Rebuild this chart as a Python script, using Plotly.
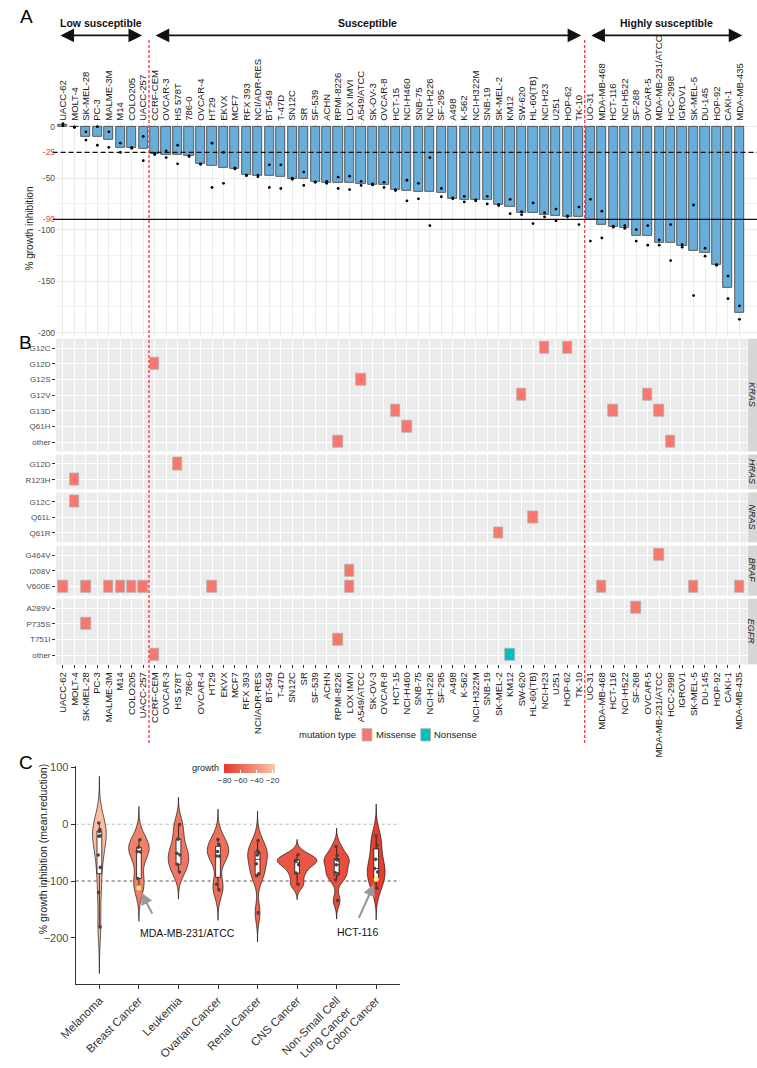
import numpy as np
import plotly.graph_objects as go

W, H = 757, 1068
FONT = "Liberation Sans, Arial, sans-serif"


def px(x):
    return x / W


def py(y):
    return 1 - y / H


# ---------------- data ----------------
cell_lines = ["UACC-62", "MOLT-4", "SK-MEL-28", "PC-3", "MALME-3M", "M14", "COLO205", "UACC-257",
              "CCRF-CEM", "OVCAR-3", "HS 578T", "786-0", "OVCAR-4", "HT29", "EKVX", "MCF7", "RFX 393",
              "NCI/ADR-RES", "BT-549", "T-47D", "SN12C", "SR", "SF-539", "ACHN", "RPMI-8226", "LOX IMVI",
              "A549/ATCC", "SK-OV-3", "OVCAR-8", "HCT-15", "NCI-H460", "SNB-75", "NCI-H226", "SF-295",
              "A498", "K-562", "NCI-H322M", "SNB-19", "SK-MEL-2", "KM12", "SW-620", "HL-60(TB)", "NCI-H23",
              "U251", "HOP-62", "TK-10", "UO-31", "MDA-MB-468", "HCT-116", "NCI-H522", "SF-268", "OVCAR-5",
              "MDA-MB-231/ATCC", "HCC-2998", "IGROV1", "SK-MEL-5", "DU-145", "HOP-92", "CAKI-1", "MDA-MB-435"]

growth = [2.0, -0.5, -9.5, -9.5, -12.7, -20.3, -20.3, -21.3,
          -26.3, -27.0, -27.3, -28.6, -36.0, -37.5, -39.4, -40.6, -47.0,
          -48.0, -48.0, -49.0, -50.5, -51.0, -53.7, -54.3, -54.3, -54.3,
          -55.0, -56.0, -56.5, -61.6, -62.2, -63.0, -63.0, -64.0,
          -69.5, -70.5, -71.4, -71.4, -76.0, -77.8, -84.0, -84.0, -85.4,
          -86.0, -87.3, -87.3, -90.6, -95.5, -97.0, -97.8, -105.7, -105.7,
          -112.4, -112.7, -115.6, -120.0, -122.5, -134.3, -156.0, -180.6]

rep1 = [3, -0.5, -5, 0, -5, -16, -20, -9.5,
        -26, -23.5, -18, -28, -36, -16, -25, -40, -47,
        -47, -37, -37, -50, -44, -53.5, -53, -49, -48,
        -53, -55.5, -54, -61, -52, -55, -30, -60,
        -69, -67.6, -71, -67.6, -75.5, -70.5, -82.5, -74, -83.5,
        -80, -86.5, -78, -70.5, -82, -96.5, -96, -100, -96,
        -110, -95, -114.5, -76, -118, -134, -145, -174]

rep2 = [1, -0.5, -13, -18, -20, -25, -21, -33,
        -27, -30, -36, -29, -36.5, -59, -55, -41, -47.5,
        -48.5, -59, -60, -51, -57, -54, -55, -60, -61,
        -57, -56.5, -59, -62, -72, -70, -96, -68,
        -70, -73, -72, -75, -76.5, -84.4, -85.4, -94, -87.6,
        -91.4, -87.5, -95, -111, -108, -97.5, -98.7, -111, -115,
        -115, -130, -117, -164, -125.7, -134.5, -167, -187]

tissue = ["Melanoma", "Leukemia", "Melanoma", "Prostate", "Melanoma", "Melanoma", "Colon Cancer", "Melanoma",
          "Leukemia", "Ovarian Cancer", "Breast Cancer", "Renal Cancer", "Ovarian Cancer", "Colon Cancer",
          "Non-Small Cell Lung Cancer", "Breast Cancer", "Renal Cancer",
          "Ovarian Cancer", "Breast Cancer", "Breast Cancer", "Renal Cancer", "Leukemia", "CNS Cancer",
          "Renal Cancer", "Leukemia", "Melanoma",
          "Non-Small Cell Lung Cancer", "Ovarian Cancer", "Ovarian Cancer", "Colon Cancer",
          "Non-Small Cell Lung Cancer", "CNS Cancer", "Non-Small Cell Lung Cancer", "CNS Cancer",
          "Renal Cancer", "Leukemia", "Non-Small Cell Lung Cancer", "CNS Cancer", "Melanoma", "Colon Cancer",
          "Colon Cancer", "Leukemia", "Non-Small Cell Lung Cancer",
          "CNS Cancer", "Non-Small Cell Lung Cancer", "Renal Cancer", "Renal Cancer", "Breast Cancer",
          "Colon Cancer", "Non-Small Cell Lung Cancer", "CNS Cancer", "Ovarian Cancer",
          "Breast Cancer", "Colon Cancer", "Ovarian Cancer", "Melanoma", "Prostate",
          "Non-Small Cell Lung Cancer", "Renal Cancer", "Melanoma"]

y_ticks_a = [0, -25, -50, -90, -100, -150, -200]
thresholds = [-25, -90]

genes = ["KRAS", "HRAS", "NRAS", "BRAF", "EGFR"]
gene_variants = {
    "KRAS": ["G12C", "G12D", "G12S", "G12V", "G13D", "Q61H", "other"],
    "HRAS": ["G12D", "R123H"],
    "NRAS": ["G12C", "Q61L", "Q61R"],
    "BRAF": ["G464V", "I208V", "V600E"],
    "EGFR": ["A289V", "P735S", "T751I", "other"],
}
mut_gene = ["KRAS", "KRAS", "KRAS", "KRAS", "KRAS", "KRAS", "KRAS", "KRAS", "KRAS", "KRAS", "KRAS", "KRAS",
            "HRAS", "HRAS",
            "NRAS", "NRAS", "NRAS",
            "BRAF", "BRAF", "BRAF", "BRAF", "BRAF", "BRAF", "BRAF", "BRAF", "BRAF", "BRAF", "BRAF", "BRAF", "BRAF",
            "EGFR", "EGFR", "EGFR", "EGFR", "EGFR"]
mut_variant = ["G12C", "G12C", "G12D", "G12S", "G12V", "G12V", "G13D", "G13D", "G13D", "Q61H", "other", "other",
               "G12D", "R123H",
               "G12C", "Q61L", "Q61R",
               "G464V", "I208V", "V600E", "V600E", "V600E", "V600E", "V600E", "V600E", "V600E", "V600E", "V600E",
               "V600E", "V600E",
               "A289V", "P735S", "T751I", "other", "other"]
mut_cell = ["NCI-H23", "HOP-62", "CCRF-CEM", "A549/ATCC", "SW-620", "OVCAR-5", "HCT-15", "HCT-116",
            "MDA-MB-231/ATCC", "NCI-H460", "RPMI-8226", "HCC-2998",
            "HS 578T", "MOLT-4",
            "MOLT-4", "HL-60(TB)", "SK-MEL-2",
            "MDA-MB-231/ATCC", "LOX IMVI", "UACC-62", "SK-MEL-28", "MALME-3M", "M14", "COLO205", "UACC-257",
            "HT29", "LOX IMVI", "MDA-MB-468", "SK-MEL-5", "MDA-MB-435",
            "SF-268", "SK-MEL-28", "RPMI-8226", "CCRF-CEM", "KM12"]
mut_type = ["Missense"] * 34 + ["Nonsense"]
type_colors = {"Missense": "#F8766D", "Nonsense": "#00BFC4"}

groups_order = ["Melanoma", "Breast Cancer", "Leukemia", "Ovarian Cancer", "Renal Cancer",
                "CNS Cancer", "Non-Small Cell Lung Cancer", "Colon Cancer"]
group_labels = ["Melanoma", "Breast Cancer", "Leukemia", "Ovarian Cancer", "Renal Cancer",
                "CNS Cancer", "Non-Small Cell<br>Lung Cancer", "Colon Cancer"]
highlight_cells = ["MDA-MB-231/ATCC", "HCT-116"]
ref_lines_c = [0, -100]
cbar_ticks = [-80, -60, -40, -20]
cbar_limits = [-81, -17]
C_LOW, C_HIGH = (229, 56, 42), (252, 199, 168)

BAR_COLOR = "#69AEDA"
RED = "#F4434A"

fig = go.Figure()
xi = np.arange(len(cell_lines))
cell_index = {c: i for i, c in enumerate(cell_lines)}

# ---------------- Panel A ----------------
fig.add_trace(go.Bar(x=xi, y=growth, width=0.8,
                     marker=dict(color=BAR_COLOR, line=dict(color="#3a3a3a", width=0.8)),
                     xaxis="x", yaxis="y", hoverinfo="skip"))
fig.add_trace(go.Scatter(x=np.concatenate([xi, xi]), y=rep1 + rep2, mode="markers",
                         marker=dict(size=2.8, color="black"), xaxis="x", yaxis="y", hoverinfo="skip"))

ticktext_a = []
for v in y_ticks_a:
    if v in thresholds:
        ticktext_a.append(f'<span style="color:{RED}">{v}</span>')
    else:
        ticktext_a.append(str(v))

layout = dict(
    width=W, height=H, margin=dict(l=0, r=0, t=0, b=0), autosize=False,
    paper_bgcolor="white", plot_bgcolor="white", showlegend=False,
    font=dict(family=FONT, color="#222"),
    bargap=0,
)
layout["xaxis"] = dict(domain=[px(40), 1.0], range=[-0.6, 60.53], anchor="y", side="top",
                       tickvals=xi, ticktext=cell_lines, tickangle=-90, ticks="",
                       tickfont=dict(size=9.5, color="#1a1a1a"), showgrid=True, gridcolor="#EBEBEB",
                       zeroline=False, showline=False)
layout["yaxis"] = dict(domain=[py(337), py(119)], range=[-202.9, 4.8], anchor="x",
                       tickvals=y_ticks_a, ticktext=ticktext_a, ticks="",
                       tickfont=dict(size=8.5, color="#4D4D4D"), showgrid=True, gridcolor="#EBEBEB",
                       minor=dict(tickvals=[-75, -125, -175], showgrid=True, gridcolor="#F2F2F2"),
                       zeroline=False, showline=False)

shapes = []
annotations = []
for t in thresholds:
    shapes.append(dict(type="line", xref="x domain", x0=-0.005, x1=1, yref="y", y0=t, y1=t,
                       line=dict(color="#111", width=1.3, dash="5px,3px" if t == -25 else "solid")))

# group boundaries
cuts = [7.5, 45.5]
for c in cuts:
    shapes.append(dict(type="line", xref="x", x0=c, x1=c, yref="paper", y0=py(752), y1=py(35),
                       line=dict(color=RED, width=1.4, dash="3px,2px"), layer="above"))

arrow_spans = [(-0.35, 6.9, "Low susceptible"), (7.95, 45.2, "Susceptible"),
               (45.95, 59.25, "Highly susceptible")]
for a0, a1, lab in arrow_spans:
    annotations.append(dict(x=a1, y=py(31), xref="x", yref="paper", ax=a0, ay=0, axref="x", ayref="pixel",
                            text="", showarrow=True, arrowside="end+start", arrowhead=2, arrowsize=1.7,
                            arrowwidth=1.6, arrowcolor="#111"))
    annotations.append(dict(x=(a0 + a1) / 2, y=py(18), xref="x", yref="paper", text=f"<b>{lab}</b>",
                            showarrow=False, xanchor="center", yanchor="middle",
                            font=dict(size=10.5, color="#111")))

annotations.append(dict(x=px(1), y=py(12), xref="paper", yref="paper", text="A", showarrow=False,
                        xanchor="left", yanchor="middle", font=dict(size=19, color="black")))
annotations.append(dict(x=px(13), y=py(228), xref="paper", yref="paper", text="% growth inhibition",
                        textangle=-90, showarrow=False, xanchor="center", yanchor="middle",
                        font=dict(size=10, color="#222")))

# ---------------- Panel B ----------------
facet_px = {"KRAS": (340, 455), "HRAS": (458, 493.5), "NRAS": (496.7, 547.5),
            "BRAF": (551, 602), "EGFR": (605, 672)}
for k, gene in enumerate(genes):
    n = k + 2
    xa, ya = f"x{n}", f"y{n}"
    variants = gene_variants[gene]
    nr = len(variants)
    top, bot = facet_px[gene]
    last = (k == len(genes) - 1)
    layout[f"xaxis{n}"] = dict(domain=[px(40), px(746.7)], range=[-0.6, 59.66], anchor=ya,
                               tickvals=xi, ticktext=cell_lines, tickangle=-90,
                               showticklabels=last, ticks="outside" if last else "", ticklen=3,
                               tickcolor="#333", tickfont=dict(size=9.5, color="#1a1a1a"),
                               showgrid=True, gridcolor="white", gridwidth=1.1,
                               zeroline=False, showline=False)
    layout[f"yaxis{n}"] = dict(domain=[py(bot), py(top)], range=[nr - 1 + 0.6, -0.6], anchor=xa,
                               tickvals=list(range(nr)), ticktext=variants, ticks="outside", ticklen=3,
                               tickcolor="#333", tickfont=dict(size=8, color="#4D4D4D"),
                               showgrid=True, gridcolor="white", gridwidth=1.1,
                               zeroline=False, showline=False)
    shapes.append(dict(type="rect", xref=f"{xa} domain", yref=f"{ya} domain", x0=0, x1=1, y0=0, y1=1,
                       fillcolor="#EBEBEB", line=dict(width=0), layer="below"))
    shapes.append(dict(type="rect", xref="paper", yref=f"{ya} domain", x0=px(747.5), x1=1, y0=0, y1=1,
                       fillcolor="#D6D6D6", line=dict(width=0), layer="below"))
    annotations.append(dict(x=px(751.8), y=0.5, xref="paper", yref=f"{ya} domain", text=f"<i>{gene}</i>",
                            textangle=90, showarrow=False, xanchor="center", yanchor="middle",
                            font=dict(size=9, color="#1a1a1a")))
    sel = [j for j, g in enumerate(mut_gene) if g == gene]
    fig.add_trace(go.Bar(
        x=[cell_index[mut_cell[j]] for j in sel],
        y=[0.76] * len(sel),
        base=[variants.index(mut_variant[j]) - 0.38 for j in sel],
        width=0.82,
        marker=dict(color=[type_colors[mut_type[j]] for j in sel], line=dict(color="#B0B0B0", width=0.8)),
        xaxis=xa, yaxis=ya, hoverinfo="skip"))

annotations.append(dict(x=px(0), y=py(344), xref="paper", yref="paper", text="B", showarrow=False,
                        xanchor="left", yanchor="middle", font=dict(size=19, color="black")))

# legend for mutation type (manual)
annotations.append(dict(x=px(349), y=py(743.5), xref="paper", yref="paper", text="mutation type",
                        showarrow=False, xanchor="right", yanchor="middle", font=dict(size=9.5, color="#222")))
leg_x = {"Missense": 353, "Nonsense": 413}
for t, x0 in leg_x.items():
    shapes.append(dict(type="rect", xref="paper", yref="paper", x0=px(x0), x1=px(x0 + 10),
                       y0=py(750), y1=py(737.5), fillcolor=type_colors[t],
                       line=dict(color="#B0B0B0", width=0.8)))
    annotations.append(dict(x=px(x0 + 12), y=py(743.5), xref="paper", yref="paper", text=t,
                            showarrow=False, xanchor="left", yanchor="middle",
                            font=dict(size=9.5, color="#222")))

# ---------------- Panel C ----------------


def nrd0(v):
    v = np.asarray(v, dtype=float)
    sd = v.std(ddof=1)
    q75, q25 = np.percentile(v, [75, 25])
    lo = min(sd, (q75 - q25) / 1.34)
    return 0.9 * lo * len(v) ** -0.2


def kde_peak(v, bw):
    v = np.asarray(v, dtype=float)
    grid = np.linspace(v.min() - 3 * bw, v.max() + 3 * bw, 512)
    d = np.exp(-0.5 * ((grid[:, None] - v[None, :]) / bw) ** 2).sum(axis=1) / (len(v) * bw * np.sqrt(2 * np.pi))
    return d.max()


def fill_for(val):
    t = (val - cbar_limits[0]) / (cbar_limits[1] - cbar_limits[0])
    t = min(max(t, 0), 1)
    c = [round(C_LOW[i] + (C_HIGH[i] - C_LOW[i]) * t) for i in range(3)]
    return f"rgb({c[0]},{c[1]},{c[2]})"


group_vals = [[growth[i] for i in range(len(cell_lines)) if tissue[i] == grp] for grp in groups_order]
group_bw = [nrd0(v) for v in group_vals]
peaks = [kde_peak(v, b) for v, b in zip(group_vals, group_bw)]
MAX_W = 1.0
medians = []
for g, grp in enumerate(groups_order):
    vals = group_vals[g]
    bw = group_bw[g]
    med = float(np.median(vals))
    medians.append(med)
    wv = MAX_W * peaks[g] / max(peaks)
    fig.add_trace(go.Violin(
        x=[g] * len(vals), y=vals, bandwidth=bw, spanmode="manual",
        span=[min(vals) - 3 * bw, max(vals) + 3 * bw],
        scalegroup=grp, scalemode="width", width=wv,
        fillcolor=fill_for(med), opacity=1, line=dict(color="black", width=0.6),
        box=dict(visible=True, width=min(0.12 / wv, 1), fillcolor="white",
                 line=dict(color="black", width=0.7)),
        meanline=dict(visible=False), points="all", jitter=min(0.1 / wv, 1), pointpos=0,
        marker=dict(size=3.6, color="#444444"),
        xaxis="x7", yaxis="y7", hoverinfo="skip"))

hx = [groups_order.index(tissue[cell_index[c]]) for c in highlight_cells]
hy = [growth[cell_index[c]] for c in highlight_cells]
fig.add_trace(go.Scatter(x=hx, y=hy, mode="markers", marker=dict(size=5, color="#FFF27A"),
                         xaxis="x7", yaxis="y7", hoverinfo="skip"))

fig.add_trace(go.Scatter(x=[None] * len(medians), y=[None] * len(medians), mode="markers",
                         marker=dict(color=medians, cmin=cbar_limits[0], cmax=cbar_limits[1],
                                     colorscale=[[0, "rgb(%d,%d,%d)" % C_LOW], [1, "rgb(%d,%d,%d)" % C_HIGH]],
                                     showscale=True,
                                     colorbar=dict(orientation="h", x=px(237.8), xanchor="center",
                                                   y=py(773.5), yanchor="top", len=51, lenmode="pixels",
                                                   thickness=9, outlinewidth=0, xpad=0, ypad=0,
                                                   tickvals=cbar_ticks, ticks="inside", tickcolor="white",
                                                   ticklen=3, tickangle=0,
                                                   tickfont=dict(size=8, color="#333"))),
                         xaxis="x7", yaxis="y7", hoverinfo="skip", showlegend=False))

layout["xaxis7"] = dict(domain=[px(60), px(391.7)], range=[-0.6, 7.6], anchor="y7",
                        tickvals=list(range(len(groups_order))), ticktext=group_labels, tickangle=-45,
                        ticks="outside", ticklen=4, tickcolor="#333", tickfont=dict(size=11.5, color="#333"),
                        showline=True, linecolor="#333", linewidth=1, showgrid=False, zeroline=False)
layout["yaxis7"] = dict(domain=[py(998), py(776)], range=[-281.6, 101.5], anchor="x7",
                        tickvals=[100, 0, -100, -200], ticks="outside", ticklen=4, tickcolor="#333",
                        tickfont=dict(size=11, color="#4D4D4D"),
                        showline=True, linecolor="#333", linewidth=1, showgrid=False, zeroline=False)

for v, col in zip(ref_lines_c, ["#BDBDBD", "#555555"]):
    shapes.append(dict(type="line", xref="x7 domain", x0=0, x1=1, yref="y7", y0=v, y1=v,
                       line=dict(color=col, width=1.1, dash="dot"), layer="below"))

annotations.append(dict(x=px(193), y=py(777.5), xref="paper", yref="paper", text="growth",
                        showarrow=False, xanchor="center", yanchor="middle", font=dict(size=9, color="#222")))
annotations.append(dict(x=px(27), y=py(860), xref="paper", yref="paper",
                        text="% growth inhibition (mean.reduction)", textangle=-90, showarrow=False,
                        xanchor="center", yanchor="middle", font=dict(size=10.5, color="#222")))
annotations.append(dict(x=px(0), y=py(772), xref="paper", yref="paper", text="C", showarrow=False,
                        xanchor="left", yanchor="middle", font=dict(size=19, color="black")))

arrow_offsets = {"MDA-MB-231/ATCC": (14, 27), "HCT-116": (-18, 40)}
label_offsets = {"MDA-MB-231/ATCC": (49, 45), "HCT-116": (-19, 53)}
for c, x0, y0 in zip(highlight_cells, hx, hy):
    axo, ayo = arrow_offsets[c]
    annotations.append(dict(x=x0, y=y0, xref="x7", yref="y7", ax=axo, ay=ayo, text="", showarrow=True,
                            arrowhead=2, arrowsize=1.1, arrowwidth=2.2, arrowcolor="#9A9A9A", standoff=5))
    lxo, lyo = label_offsets[c]
    annotations.append(dict(x=x0, y=y0, xref="x7", yref="y7", xshift=lxo, yshift=-lyo, text=c,
                            showarrow=False, xanchor="center", yanchor="middle",
                            font=dict(size=10.5, color="#111")))

layout["shapes"] = shapes
layout["annotations"] = annotations
fig.update_layout(**layout)

fig.write_html("out.html", config={"displayModeBar": False},
               post_script="document.body.style.margin='0';document.body.style.overflow='hidden';")
